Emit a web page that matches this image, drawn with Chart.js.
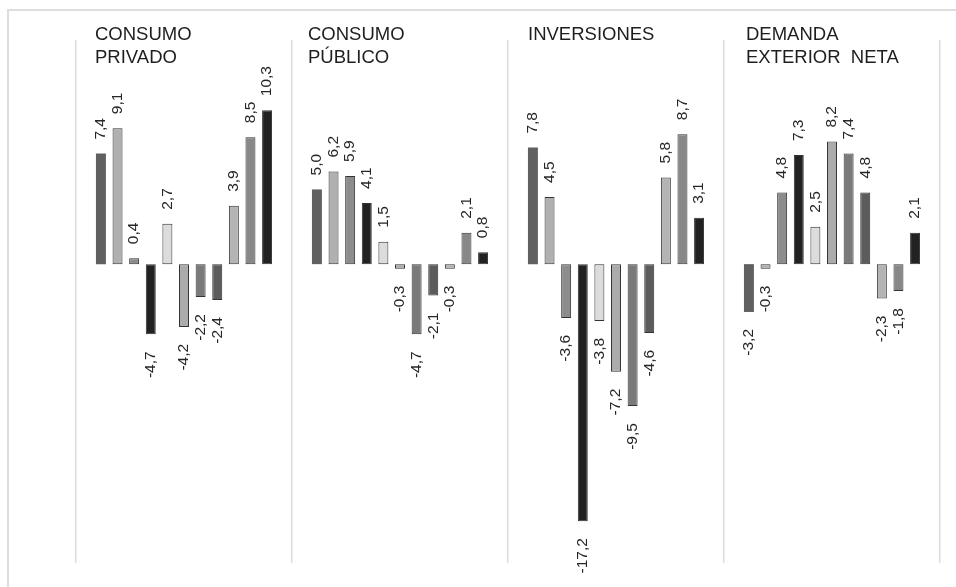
<!DOCTYPE html>
<html lang="es">
<head>
<meta charset="utf-8">
<title>Contribución por componentes</title>
<script src="https://cdn.jsdelivr.net/npm/chart.js@4/dist/chart.umd.min.js"></script>
<style>
  html, body { margin: 0; padding: 0; background: #fff; }
  #wrap { position: relative; width: 956px; height: 587px; overflow: hidden; }
  #frame { position: absolute; left: 7px; top: 9px; width: 1000px; height: 640px; border: 2px solid #dedede; box-sizing: border-box; }
  #chart { position: absolute; left: 0; top: 0; }
  .titulo { position: absolute; top: 22px; font-family: "Liberation Sans", Arial, sans-serif; font-size: 18.5px; line-height: 23px; color: #1e1e1e; white-space: pre; }
</style>
</head>
<body>
<div id="wrap">
  <div id="frame"></div>
  <canvas id="chart" width="956" height="587"></canvas>
</div>
<script>
const panels = ["CONSUMO\nPRIVADO", "CONSUMO\nPÚBLICO", "INVERSIONES", "DEMANDA\nEXTERIOR  NETA"];
const titleLeft = [95, 308, 528, 746];

const consumoPrivado = [7.4, 9.1, 0.4, -4.7, 2.7, -4.2, -2.2, -2.4, 3.9, 8.5, 10.3];
const consumoPublico = [5.0, 6.2, 5.9, 4.1, 1.5, -0.3, -4.7, -2.1, -0.3, 2.1, 0.8];
const inversiones = [7.8, 4.5, -3.6, -17.2, -3.8, -7.2, -9.5, -4.6, 5.8, 8.7, 3.1];
const demandaExterior = [-3.2, -0.3, 4.8, 7.3, 2.5, 8.2, 7.4, 4.8, -2.3, -1.8, 2.1];

const series = [consumoPrivado, consumoPublico, inversiones, demandaExterior];

// one grey per bar position, repeated in every panel
const barColors = ["#606060", "#b0b0b0", "#8c8c8c", "#222222", "#dcdcdc", "#ababab",
                   "#7a7a7a", "#5c5c5c", "#b4b4b4", "#888888", "#222222"];

// each panel gets an empty slot on both sides of its 11 bars
const SLOTS = 13;
let labels = [], values = [], fills = [], borders = [], widths = [];
series.forEach((s, p) => {
    labels.push("p" + p + "a"); values.push(null); fills.push("#fff"); borders.push("#fff"); widths.push(0);
    s.forEach((v, i) => {
        labels.push("p" + p + "-" + i);
        values.push(v);
        fills.push(barColors[i]);
        borders.push(i === 0 ? barColors[i] : "#333333");
        widths.push(i === 0 ? 0 : 1);
    });
    labels.push("p" + p + "b"); values.push(null); fills.push("#fff"); borders.push("#fff"); widths.push(0);
});

panels.forEach((t, p) => {
    const d = document.createElement("div");
    d.className = "titulo";
    d.style.left = titleLeft[p] + "px";
    d.textContent = t;
    document.getElementById("wrap").appendChild(d);
});

const fmt = (v) => v.toFixed(1).replace(".", ",");

const valueLabels = {
    id: "valueLabels",
    afterDatasetsDraw(chart) {
        const ctx = chart.ctx;
        const meta = chart.getDatasetMeta(0);
        ctx.save();
        ctx.font = '15.5px "Liberation Sans", Arial, sans-serif';
        ctx.fillStyle = "#262626";
        ctx.textBaseline = "middle";
        meta.data.forEach((bar, i) => {
            const v = values[i];
            if (v === null) return;
            ctx.save();
            if (v >= 0) {
                ctx.translate(bar.x, bar.y - 14);
                ctx.rotate(-Math.PI / 2);
                ctx.textAlign = "left";
            } else {
                ctx.translate(bar.x, bar.y + 17);
                ctx.rotate(-Math.PI / 2);
                ctx.textAlign = "right";
            }
            ctx.fillText(fmt(v), 0, 0);
            ctx.restore();
        });
        ctx.restore();
    }
};

new Chart(document.getElementById("chart"), {
    type: "bar",
    data: {
        labels: labels,
        datasets: [{
            data: values,
            backgroundColor: fills,
            borderColor: borders,
            borderWidth: widths,
            borderSkipped: false,
            barPercentage: 0.6,
            categoryPercentage: 1
        }]
    },
    options: {
        responsive: false,
        animation: false,
        layout: { padding: { left: 76, right: 16, top: 40, bottom: 24 } },
        plugins: { legend: { display: false }, tooltip: { enabled: false } },
        scales: {
            x: {
                offset: true,
                ticks: { display: false, autoSkip: false },
                border: { display: false },
                grid: {
                    drawTicks: false,
                    lineWidth: 1.5,
                    color: (c) => (c.index === undefined || c.index % SLOTS === 0) ? "#dcdcdc" : "rgba(0,0,0,0)"
                }
            },
            y: {
                display: false,
                min: -20,
                max: 15
            }
        }
    },
    plugins: [valueLabels]
});
</script>
</body>
</html>
